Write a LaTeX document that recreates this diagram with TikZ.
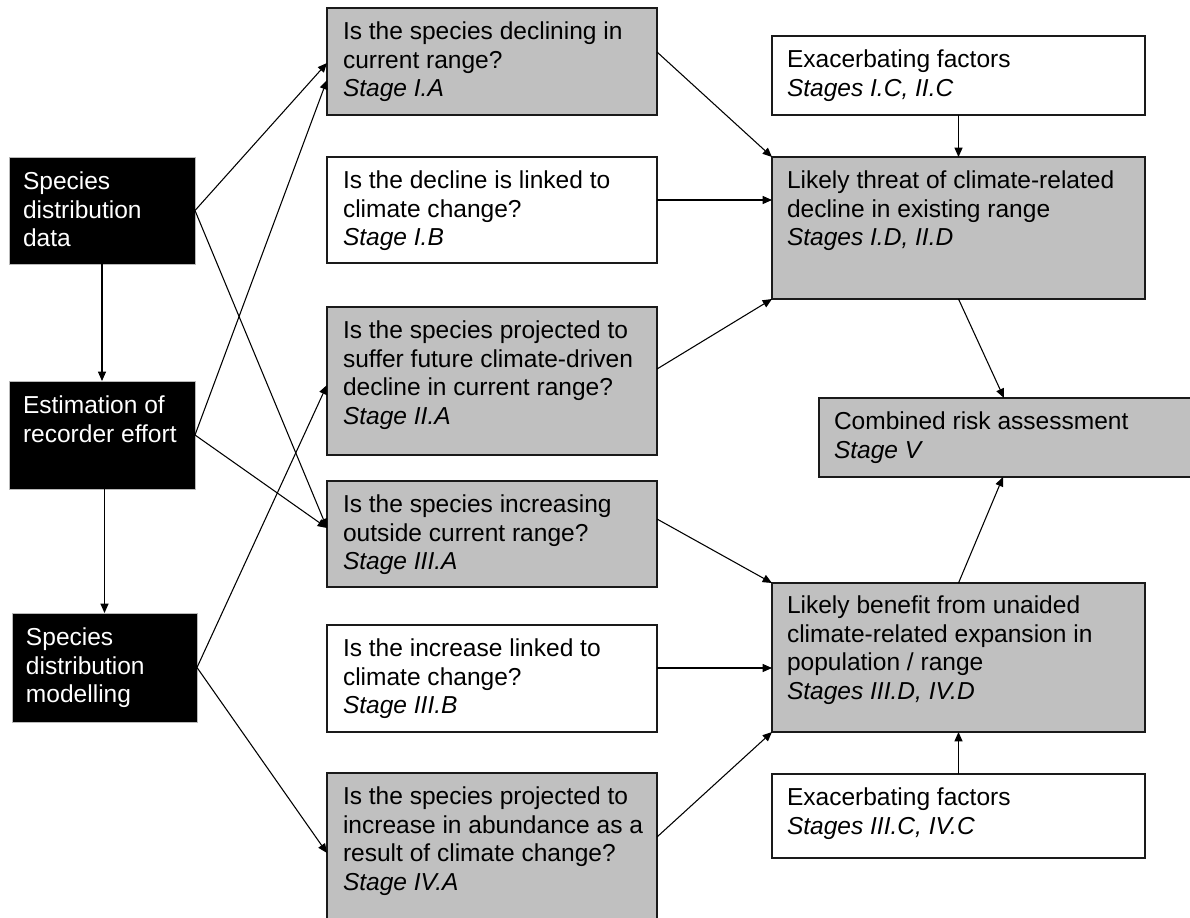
\documentclass[tikz,border=0pt]{standalone}
\usepackage{fontspec}
\setmainfont{Liberation Sans}
\usetikzlibrary{arrows.meta,calc}
\definecolor{boxgray}{HTML}{C0C0C0}
\definecolor{edge}{HTML}{1A1A1A}
\begin{document}
\begin{tikzpicture}[x=0.75pt,y=-0.75pt,
  every node/.style={outer sep=0pt},
  qbox/.style={draw=edge, line width=1pt, anchor=north west, inner sep=0pt},
  graybox/.style={qbox, fill=boxgray},
  whitebox/.style={qbox, fill=white},
  blackbox/.style={draw=gray!55, line width=0.6pt, fill=black, anchor=north west, inner sep=0pt},
  txt/.style={anchor=north west, inner sep=0pt, align=left, font=\fontsize{18.4pt}{21.4pt}\selectfont},
  wtxt/.style={txt, text=white},
  conn/.style={line width=0.8pt, draw=black, -{Triangle[length=7pt,width=6pt]}}]
\clip (0,0) rectangle (1190,918);
\fill[white] (0,0) rectangle (1190,918);

% left column (black)
\node[blackbox, minimum width=139.5pt, minimum height=80.25pt] (SDD) at (9,157) {};
\node[wtxt] (SDDt) at ($(SDD.north west)+(14,15)$) {Species\\distribution\\data};
\node[blackbox, minimum width=139.5pt, minimum height=81pt] (EST) at (9,381) {};
\node[wtxt] (ESTt) at ($(EST.north west)+(14,15)$) {Estimation of\\recorder effort};
\node[blackbox, minimum width=138.75pt, minimum height=81.75pt] (SDM) at (12,613) {};
\node[wtxt] (SDMt) at ($(SDM.north west)+(14,15)$) {Species\\distribution\\modelling};

% middle column
\node[graybox, minimum width=247.5pt, minimum height=80.25pt] (IA) at (327,8) {};
\node[txt] (IAt) at ($(IA.north west)+(16,14)$) {Is the species declining in\\current range?\\\textit{Stage I.A}};
\node[whitebox, minimum width=247.5pt, minimum height=79.5pt] (IB) at (327,157) {};
\node[txt] (IBt) at ($(IB.north west)+(16,14)$) {Is the decline is linked to\\climate change?\\\textit{Stage I.B}};
\node[graybox, minimum width=247.5pt, minimum height=111pt] (IIA) at (327,307) {};
\node[txt] (IIAt) at ($(IIA.north west)+(16,14)$) {Is the species projected to\\suffer future climate-driven\\decline in current range?\\\textit{Stage II.A}};
\node[graybox, minimum width=247.5pt, minimum height=79.5pt] (IIIA) at (327,481) {};
\node[txt] (IIIAt) at ($(IIIA.north west)+(16,14)$) {Is the species increasing\\outside current range?\\\textit{Stage III.A}};
\node[whitebox, minimum width=247.5pt, minimum height=80.25pt] (IIIB) at (327,625) {};
\node[txt] (IIIBt) at ($(IIIB.north west)+(16,14)$) {Is the increase linked to\\climate change?\\\textit{Stage III.B}};
\node[graybox, minimum width=247.5pt, minimum height=117.75pt] (IVA) at (327,773) {};
\node[txt] (IVAt) at ($(IVA.north west)+(16,14)$) {Is the species projected to\\increase in abundance as a\\result of climate change?\\\textit{Stage IV.A}};

% right column
\node[whitebox, minimum width=279.75pt, minimum height=59.25pt] (ExT) at (772,36) {};
\node[txt] (ExTt) at ($(ExT.north west)+(15,14)$) {Exacerbating factors\\\textit{Stages I.C, II.C}};
\node[graybox, minimum width=279.75pt, minimum height=106.5pt] (LT) at (772,157) {};
\node[txt] (LTt) at ($(LT.north west)+(15,14)$) {Likely threat of climate-related\\decline in existing range\\\textit{Stages I.D, II.D}};
\node[graybox, minimum width=285.75pt, minimum height=59.25pt] (CR) at (819,398) {};
\node[txt] (CRt) at ($(CR.north west)+(15,14)$) {Combined risk assessment\\\textit{Stage V}};
\node[graybox, minimum width=279.75pt, minimum height=111.75pt] (LB) at (772,583) {};
\node[txt] (LBt) at ($(LB.north west)+(15,13)$) {Likely benefit from unaided\\climate-related expansion in\\population / range\\\textit{Stages III.D, IV.D}};
\node[whitebox, minimum width=279.75pt, minimum height=63pt] (ExB) at (772,774) {};
\node[txt] (ExBt) at ($(ExB.north west)+(15,14)$) {Exacerbating factors\\\textit{Stages III.C, IV.C}};

% connectors, left
\draw[conn] (SDD.south) -- (EST.north);
\draw[conn] (SDM.north |- EST.south) -- (SDM.north);
\draw[conn] (SDD.east) -- ($(IA.west)+(0,1.5)$);
\draw[conn] (SDD.east) -- ($(IIIA.west)+(0,-6)$);
\draw[conn] (EST.east) -- ($(IA.west)+(0,18.5)$);
\draw[conn] (EST.east) -- ($(IIIA.west)+(0,-6)$);
\draw[conn] (SDM.east) -- ($(IIA.west)+(0,4)$);
\draw[conn] (SDM.east) -- ($(IVA.west)+(0,1.5)$);

% connectors, right
\draw[conn] ($(IA.east)+(0,-9.5)$) -- (LT.north west);
\draw[conn] ($(IB.east)+(0,-10)$) coordinate (ib) -- (ib -| LT.west);
\draw[conn] ($(IIA.east)+(0,-12)$) -- (LT.south west);
\draw[conn] (ExT.south) -- (LT.north);
\draw[conn] (LT.south) -- ($(CR.north west)+(185,0)$);
\draw[conn] (LB.north) -- ($(CR.south west)+(184,0)$);
\draw[conn] ($(IIIA.east)+(0,-15)$) -- (LB.north west);
\draw[conn] ($(IIIB.east)+(0,-10.5)$) coordinate (iiib) -- (iiib -| LB.west);
\draw[conn] ($(IVA.east)+(0,-14.5)$) -- (LB.south west);
\draw[conn] (ExB.north) -- (LB.south);
\end{tikzpicture}
\end{document}
